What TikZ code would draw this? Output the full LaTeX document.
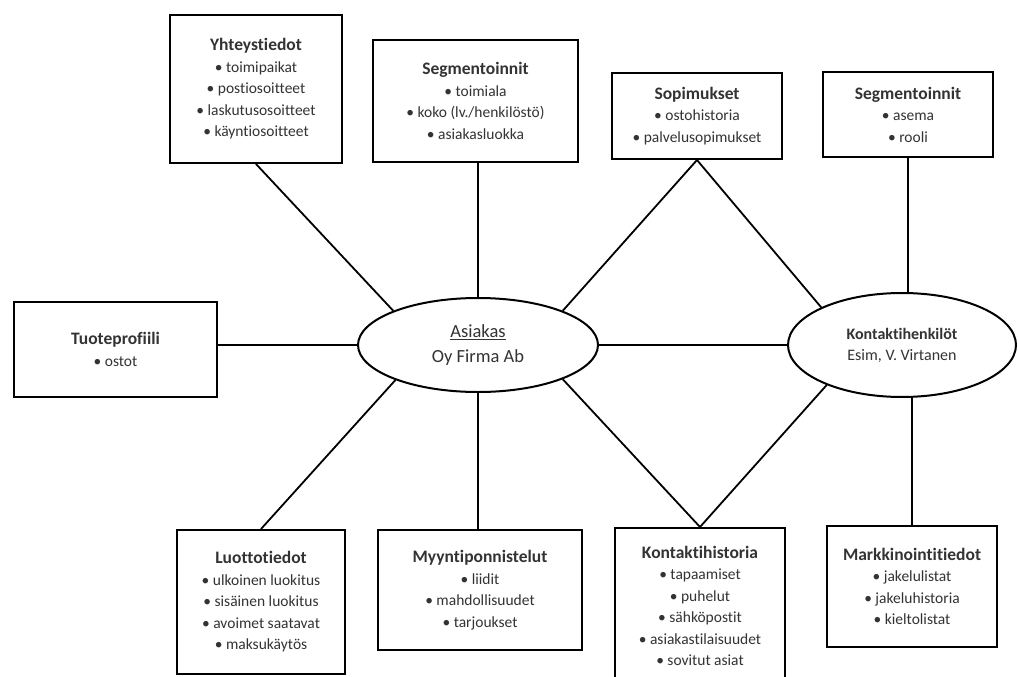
\documentclass[tikz,border=0pt]{standalone}
\usepackage{fontspec}
\setmainfont{Carlito}[Ligatures=NoCommon]
\usetikzlibrary{shapes.geometric}
\newcommand{\ttl}[1]{{\fontsize{17.5}{21.5}\selectfont\bfseries #1}}
\begin{document}
\begin{tikzpicture}[x=1pt,y=-1pt,
  box/.style={draw=black,line width=2pt,fill=white,inner sep=0pt,align=center,
    text=black!80,font=\fontsize{15.5}{21.5}\selectfont},
  oval/.style={draw=black,line width=2pt,ellipse,inner sep=0pt,align=center,text=black!80},
  conn/.style={draw=black,line width=1.8pt}]
\fill[white] (0,0) rectangle (1018,677);
\useasboundingbox (0,0) rectangle (1018,677);
% central ellipses
\node[oval,minimum width=240pt,minimum height=94pt,font=\fontsize{18.5}{25}\selectfont] (asi) at (478,345) {\underline{Asiakas}\\Oy Firma Ab};
\node[oval,minimum width=228pt,minimum height=104pt,font=\fontsize{16}{21}\selectfont] (kon) at (902,345) {\textbf{Kontaktihenkilöt}\\Esim, V. Virtanen};
% top boxes
\node[box,minimum width=172pt,minimum height=148pt] (yht) at (256,89) {\ttl{Yhteystiedot}\\• toimipaikat\\• postiosoitteet\\• laskutusosoitteet\\• käyntiosoitteet};
\node[box,minimum width=205pt,minimum height=122pt] (seg1) at (475.5,101) {\ttl{Segmentoinnit}\\• toimiala\\• koko (lv./henkilöstö)\\• asiakasluokka};
\node[box,minimum width=170pt,minimum height=86pt] (sop) at (697,116) {\ttl{Sopimukset}\\• ostohistoria\\• palvelusopimukset};
\node[box,minimum width=170pt,minimum height=85pt] (seg2) at (908,114.5) {\ttl{Segmentoinnit}\\• asema\\• rooli};
% left box
\node[box,minimum width=203pt,minimum height=95pt] (tuo) at (115.5,349.5) {\ttl{Tuoteprofiili}\\• ostot};
% bottom boxes
\node[box,minimum width=168pt,minimum height=144pt] (luo) at (261,602) {\ttl{Luottotiedot}\\• ulkoinen luokitus\\• sisäinen luokitus\\• avoimet saatavat\\• maksukäytös};
\node[box,minimum width=204pt,minimum height=120pt] (myy) at (480,590) {\ttl{Myyntiponnistelut}\\• liidit\\• mahdollisuudet\\• tarjoukset};
\node[box,minimum width=170pt,minimum height=156pt] (kh) at (700,606) {\ttl{Kontaktihistoria}\\• tapaamiset\\• puhelut\\• sähköpostit\\• asiakastilaisuudet\\• sovitut asiat};
\node[box,minimum width=170pt,minimum height=121pt] (mk) at (912,586.5) {\ttl{Markkinointitiedot}\\• jakelulistat\\• jakeluhistoria\\• kieltolistat};
% connectors
\draw[conn] (yht.south) -- (asi.158);
\draw[conn] (asi.north) -- (asi.north |- seg1.south);
\draw[conn] (sop.south) -- (asi.22.6);
\draw[conn] (sop.south) -- (kon.155.8);
\draw[conn] (seg2.south) -- (seg2.south |- kon.north);
\draw[conn] (tuo.east |- asi.west) -- (asi.west);
\draw[conn] (asi.east) -- (kon.west);
\draw[conn] (asi.203.8) -- (luo.north);
\draw[conn] (asi.south) -- (asi.south |- myy.north);
\draw[conn] (asi.-22.4) -- (kh.north);
\draw[conn] (kon.208.6) -- (kh.north);
\draw[conn] (mk.north) -- (mk.north |- kon.south);
\end{tikzpicture}
\end{document}
